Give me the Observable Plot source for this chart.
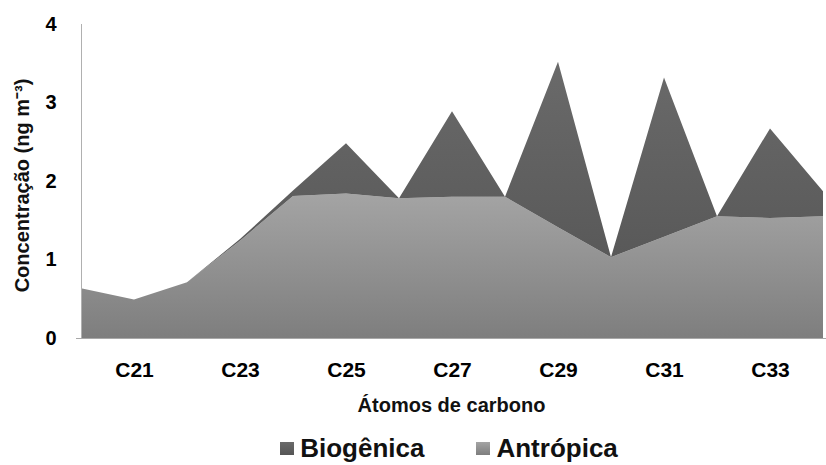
<!DOCTYPE html>
<html>
<head>
<meta charset="utf-8">
<script src="https://cdn.jsdelivr.net/npm/d3@7"></script>
<script src="https://cdn.jsdelivr.net/npm/@observablehq/plot@0.6"></script>
<style>
  body { margin: 0; background: #fff; overflow: hidden; font-family: "Liberation Sans", Arial, sans-serif; }
  #wrap { position: relative; width: 826px; height: 465px; }
  #legend { position: absolute; left: 0; top: 434px; width: 826px; height: 28px;
            display: flex; justify-content: center; align-items: center; gap: 52px;
            padding-left: 72px; box-sizing: border-box; }
  .item { display: flex; align-items: center; gap: 6px; font-weight: bold; font-size: 26px; color: #111; }
  .sw { width: 14px; height: 13px; display: inline-block; }
</style>
</head>
<body>
<div id="wrap">
  <div id="chart"></div>
  <div id="legend"></div>
</div>
<script>
// Carbon-chain categories (n-alkanes C20–C34)
const categories = ["C20", "C21", "C22", "C23", "C24", "C25", "C26", "C27",
                    "C28", "C29", "C30", "C31", "C32", "C33", "C34"];
// Anthropogenic contribution (ng m-3)
const antropica = [0.635, 0.49, 0.71, 1.24, 1.81, 1.84, 1.78, 1.80,
                   1.80, 1.41, 1.03, 1.29, 1.55, 1.53, 1.55];
// Biogenic contribution (ng m-3), stacked on top
const biogenica = [0, 0, 0, 0.02, 0.07, 0.64, 0, 1.09,
                   0, 2.11, 0, 2.03, 0, 1.14, 0.32];

const xTickLabels = ["C21", "C23", "C25", "C27", "C29", "C31", "C33"];
const yTicks = [0, 1, 2, 3, 4];
const seriesNames = ["Biogênica", "Antrópica"];
const yTitle = "Concentração (ng m⁻³)";
const xTitle = "Átomos de carbono";

// Gradient fills for the two layers: [top colour, bottom colour]
const gradientStops = {
  "Biogênica": ["#6a6a6a", "#555555"],
  "Antrópica": ["#a4a4a4", "#7e7e7e"]
};
const gradientId = {"Biogênica": "grad-bio", "Antrópica": "grad-antr"};

// Long-format rows; Antrópica first so it sits at the bottom of the stack
const rows = [];
categories.forEach((c, i) => {
  rows.push({carbon: c, serie: "Antrópica", value: antropica[i]});
  rows.push({carbon: c, serie: "Biogênica", value: biogenica[i]});
});

function gradients() {
  const ns = "http://www.w3.org/2000/svg";
  const defs = document.createElementNS(ns, "defs");
  for (const name of seriesNames) {
    const g = document.createElementNS(ns, "linearGradient");
    g.setAttribute("id", gradientId[name]);
    g.setAttribute("x1", "0"); g.setAttribute("y1", "0");
    g.setAttribute("x2", "0"); g.setAttribute("y2", "1");
    gradientStops[name].forEach((col, k) => {
      const s = document.createElementNS(ns, "stop");
      s.setAttribute("offset", k === 0 ? "0" : "1");
      s.setAttribute("stop-color", col);
      g.appendChild(s);
    });
    defs.appendChild(g);
  }
  return defs;
}

const chart = Plot.plot({
  width: 826,
  height: 422,
  marginTop: 24,
  marginLeft: 76,
  marginRight: 0,
  marginBottom: 84,
  style: {fontFamily: "'Liberation Sans', Arial, sans-serif", color: "#000", background: "#fff"},
  x: {type: "point", domain: categories, range: [76, 828], padding: 0},
  y: {domain: [0, 4]},
  color: {domain: ["Antrópica", "Biogênica"],
          range: ["url(#grad-antr)", "url(#grad-bio)"]},
  marks: [
    gradients,
    Plot.areaY(rows, {x: "carbon", y: "value", z: "serie", fill: "serie", clip: true}),
    Plot.ruleY([0], {stroke: "#a8a8a8", strokeWidth: 1.2}),
    Plot.ruleX([categories[0]], {y1: yTicks[0], y2: yTicks[yTicks.length - 1], stroke: "#b0b0b0", strokeWidth: 1}),
    Plot.axisY(yTicks, {tickSize: 0, tickPadding: 20, fontSize: 20, fontWeight: "bold", label: null,
                        tickFormat: (d) => String(d)}),
    Plot.axisX(xTickLabels, {tickSize: 0, tickPadding: 24, fontSize: 21, fontWeight: "bold", label: null}),
    Plot.text([yTitle], {frameAnchor: "left", dx: -54, dy: 4, rotate: -90, textAnchor: "middle",
                         lineAnchor: "middle", fontSize: 20, fontWeight: "bold", fill: "#111"}),
    Plot.text([xTitle], {frameAnchor: "bottom", dy: 67, lineAnchor: "middle", fontSize: 20,
                         fontWeight: "bold", fill: "#111"})
  ]
});
document.getElementById("chart").appendChild(chart);

// Legend below the chart
const legend = document.getElementById("legend");
for (const name of seriesNames) {
  const item = document.createElement("div");
  item.className = "item";
  const sw = document.createElement("span");
  sw.className = "sw";
  const [top, bottom] = gradientStops[name];
  sw.style.background = `linear-gradient(${top}, ${bottom})`;
  const label = document.createElement("span");
  label.textContent = name;
  item.append(sw, label);
  legend.appendChild(item);
}
</script>
</body>
</html>
